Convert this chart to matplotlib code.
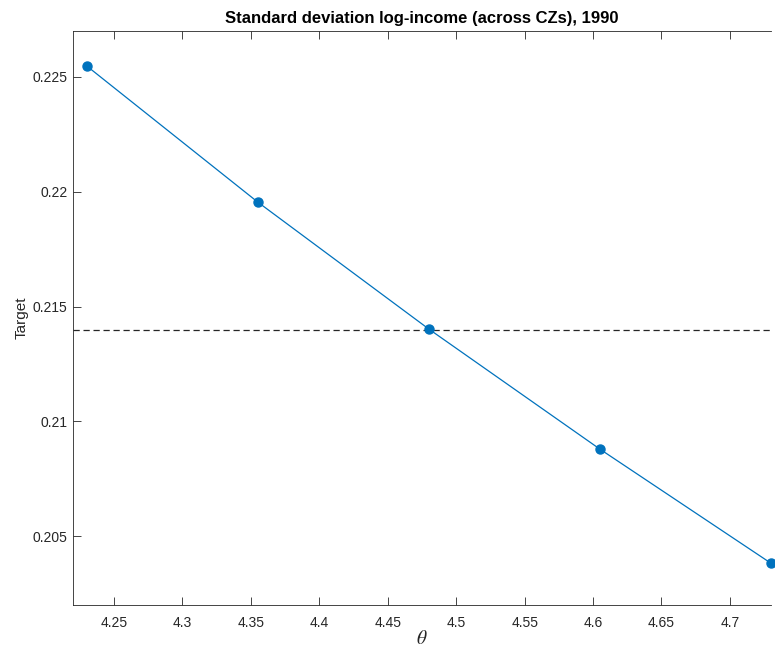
import numpy as np
import matplotlib.pyplot as plt

# theta grid and resulting target moment
theta = [4.23, 4.355, 4.48, 4.605, 4.73]
target = [0.22548, 0.21955, 0.21402, 0.20879, 0.20382]
data_moment = 0.214

plt.rcParams['font.family'] = ['Liberation Sans', 'DejaVu Sans']
plt.rcParams['mathtext.fontset'] = 'stix'

fig = plt.figure(figsize=(7.75, 6.56), dpi=100)
ax = fig.add_axes([0.0942, 0.0777, 0.9006, 0.875])

ax.plot(theta, target, '-o', color='#0072BD', lw=0.9, ms=6.5, zorder=3, clip_on=False)
ax.axhline(data_moment, color='#262626', ls=(0, (5, 3)), lw=0.9)

ax.set_xlim(4.22, 4.73)
ax.set_ylim(0.202, 0.227)
ax.set_xticks(np.arange(4.25, 4.71, 0.05))
ax.set_xticklabels(['4.25', '4.3', '4.35', '4.4', '4.45', '4.5', '4.55', '4.6', '4.65', '4.7'])
ax.set_yticks([0.205, 0.21, 0.215, 0.22, 0.225])
ax.set_yticklabels(['0.205', '0.21', '0.215', '0.22', '0.225'])
ax.tick_params(direction='in', length=6, width=0.6, labelsize=10, colors='#262626', top=True)
ax.tick_params(axis='x', pad=8)
ax.tick_params(axis='y', pad=4)
ax.spines['right'].set_visible(False)
for s in ax.spines.values():
    s.set_color('#262626')
    s.set_linewidth(0.6)

ax.set_xlabel(r'$\theta$', fontsize=14, color='#262626', labelpad=0)
ax.set_ylabel('Target', fontsize=11, color='#262626', labelpad=3)
ax.set_title('Standard deviation log-income (across CZs), 1990', fontsize=12, fontweight='bold', pad=6)

fig.savefig('out.png', dpi=100)
